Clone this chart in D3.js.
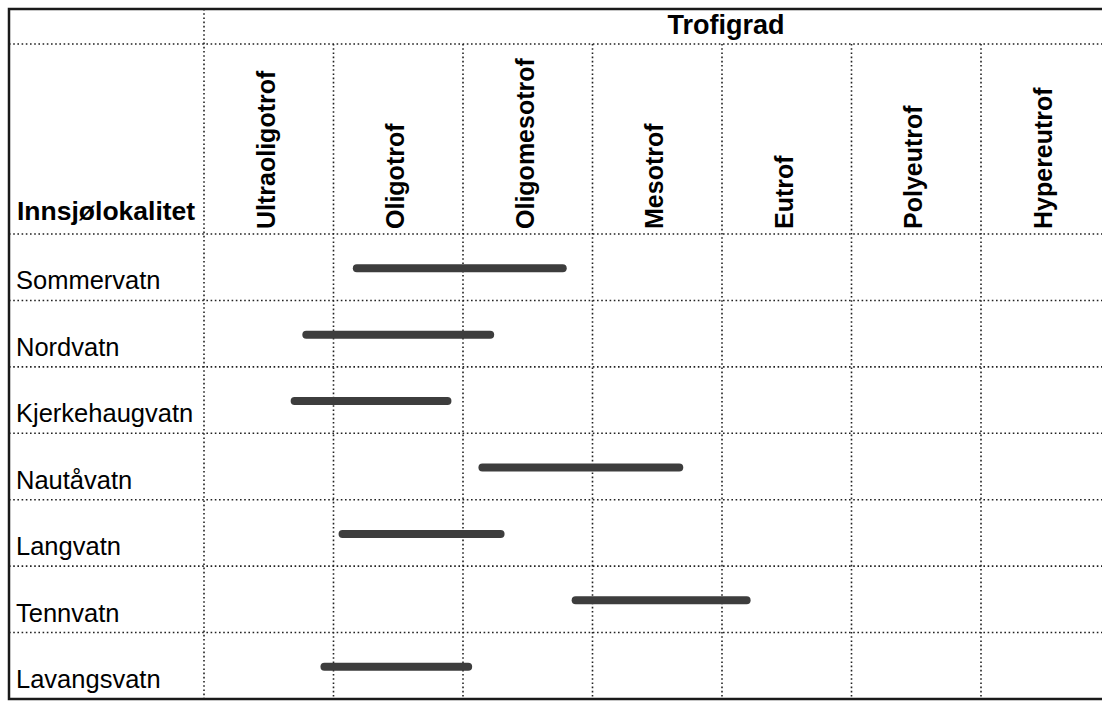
<!DOCTYPE html>
<html>
<head>
<meta charset="utf-8">
<script src="https://cdn.jsdelivr.net/npm/d3@7"></script>
<style>
  body { margin: 0; background: #fff; }
  svg { display: block; font-family: "Liberation Sans", Arial, sans-serif; }
  .grid { stroke: #222; stroke-width: 1.6; stroke-dasharray: 1.6 2.6; fill: none; }
  .border { stroke: #1a1a1a; stroke-width: 2.5; fill: none; }
  .bar { stroke: #3d3d3d; stroke-width: 8; stroke-linecap: round; }
</style>
</head>
<body>
<svg id="chart" width="1102" height="703"></svg>
<script>
// trophic levels (columns) and lakes (rows)
const trophicLevels = ['Ultraoligotrof', 'Oligotrof', 'Oligomesotrof', 'Mesotrof', 'Eutrof', 'Polyeutrof', 'Hypereutrof'];
const lakes = ['Sommervatn', 'Nordvatn', 'Kjerkehaugvatn', 'Nautåvatn', 'Langvatn', 'Tennvatn', 'Lavangsvatn'];
// range of each lake on the trophic scale, in column units (0 = start of Ultraoligotrof)
const rangeStart = [1.18, 0.79, 0.70, 2.15, 1.07, 2.87, 0.93];
const rangeEnd   = [2.77, 2.21, 1.88, 3.67, 2.29, 4.19, 2.04];
const rowHeader = 'Innsjølokalitet';
const groupHeader = 'Trofigrad';

const W = 1102, frameLeft = 9, frameTop = 9, headLine = 44, headBottom = 234, frameBottom = 699;
const svg = d3.select('#chart');

const x = d3.scaleLinear().domain([0, trophicLevels.length]).range([204, 204 + 7 * 129.5]);
const y = d3.scaleBand().domain(lakes).range([headBottom, frameBottom]);

// dotted grid
svg.append('line').attr('class', 'grid')
  .attr('x1', frameLeft).attr('x2', W).attr('y1', headLine).attr('y2', headLine);
svg.selectAll('.hrow').data([headBottom].concat(lakes.slice(1).map(d => y(d))))
  .enter().append('line').attr('class', 'grid hrow')
  .attr('x1', frameLeft).attr('x2', W).attr('y1', d => d).attr('y2', d => d);
svg.append('line').attr('class', 'grid')
  .attr('x1', x(0)).attr('x2', x(0)).attr('y1', frameTop).attr('y2', frameBottom);
svg.selectAll('.vcol').data(d3.range(1, trophicLevels.length))
  .enter().append('line').attr('class', 'grid vcol')
  .attr('x1', d => x(d)).attr('x2', d => x(d)).attr('y1', headLine).attr('y2', frameBottom);

// outer frame (right side is cut off in the original)
svg.append('path').attr('class', 'border')
  .attr('d', `M${W},${frameTop}H${frameLeft}V${frameBottom}H${W}`);

// headers
svg.append('text')
  .attr('x', 726).attr('y', 34)
  .attr('text-anchor', 'middle')
  .style('font-weight', 'bold').style('font-size', '27px')
  .text(groupHeader);

svg.append('text')
  .attr('x', 17).attr('y', 220)
  .style('font-weight', 'bold').style('font-size', '26.5px')
  .text(rowHeader);

svg.selectAll('.collabel').data(trophicLevels)
  .enter().append('text').attr('class', 'collabel')
  .attr('transform', (d, i) => `translate(${x(i + 0.5) + 6},229) rotate(-90)`)
  .style('font-weight', 'bold').style('font-size', '25px')
  .text(d => d);

// row labels
svg.selectAll('.rowlabel').data(lakes)
  .enter().append('text').attr('class', 'rowlabel')
  .attr('x', 16)
  .attr('y', d => y(d) + y.bandwidth() - 11)
  .style('font-size', '25.5px')
  .text(d => d);

// range bars
svg.selectAll('.bar').data(lakes)
  .enter().append('line').attr('class', 'bar')
  .attr('x1', (d, i) => x(rangeStart[i]))
  .attr('x2', (d, i) => x(rangeEnd[i]))
  .attr('y1', d => y(d) + y.bandwidth() / 2 + 1)
  .attr('y2', d => y(d) + y.bandwidth() / 2 + 1);
</script>
</body>
</html>
